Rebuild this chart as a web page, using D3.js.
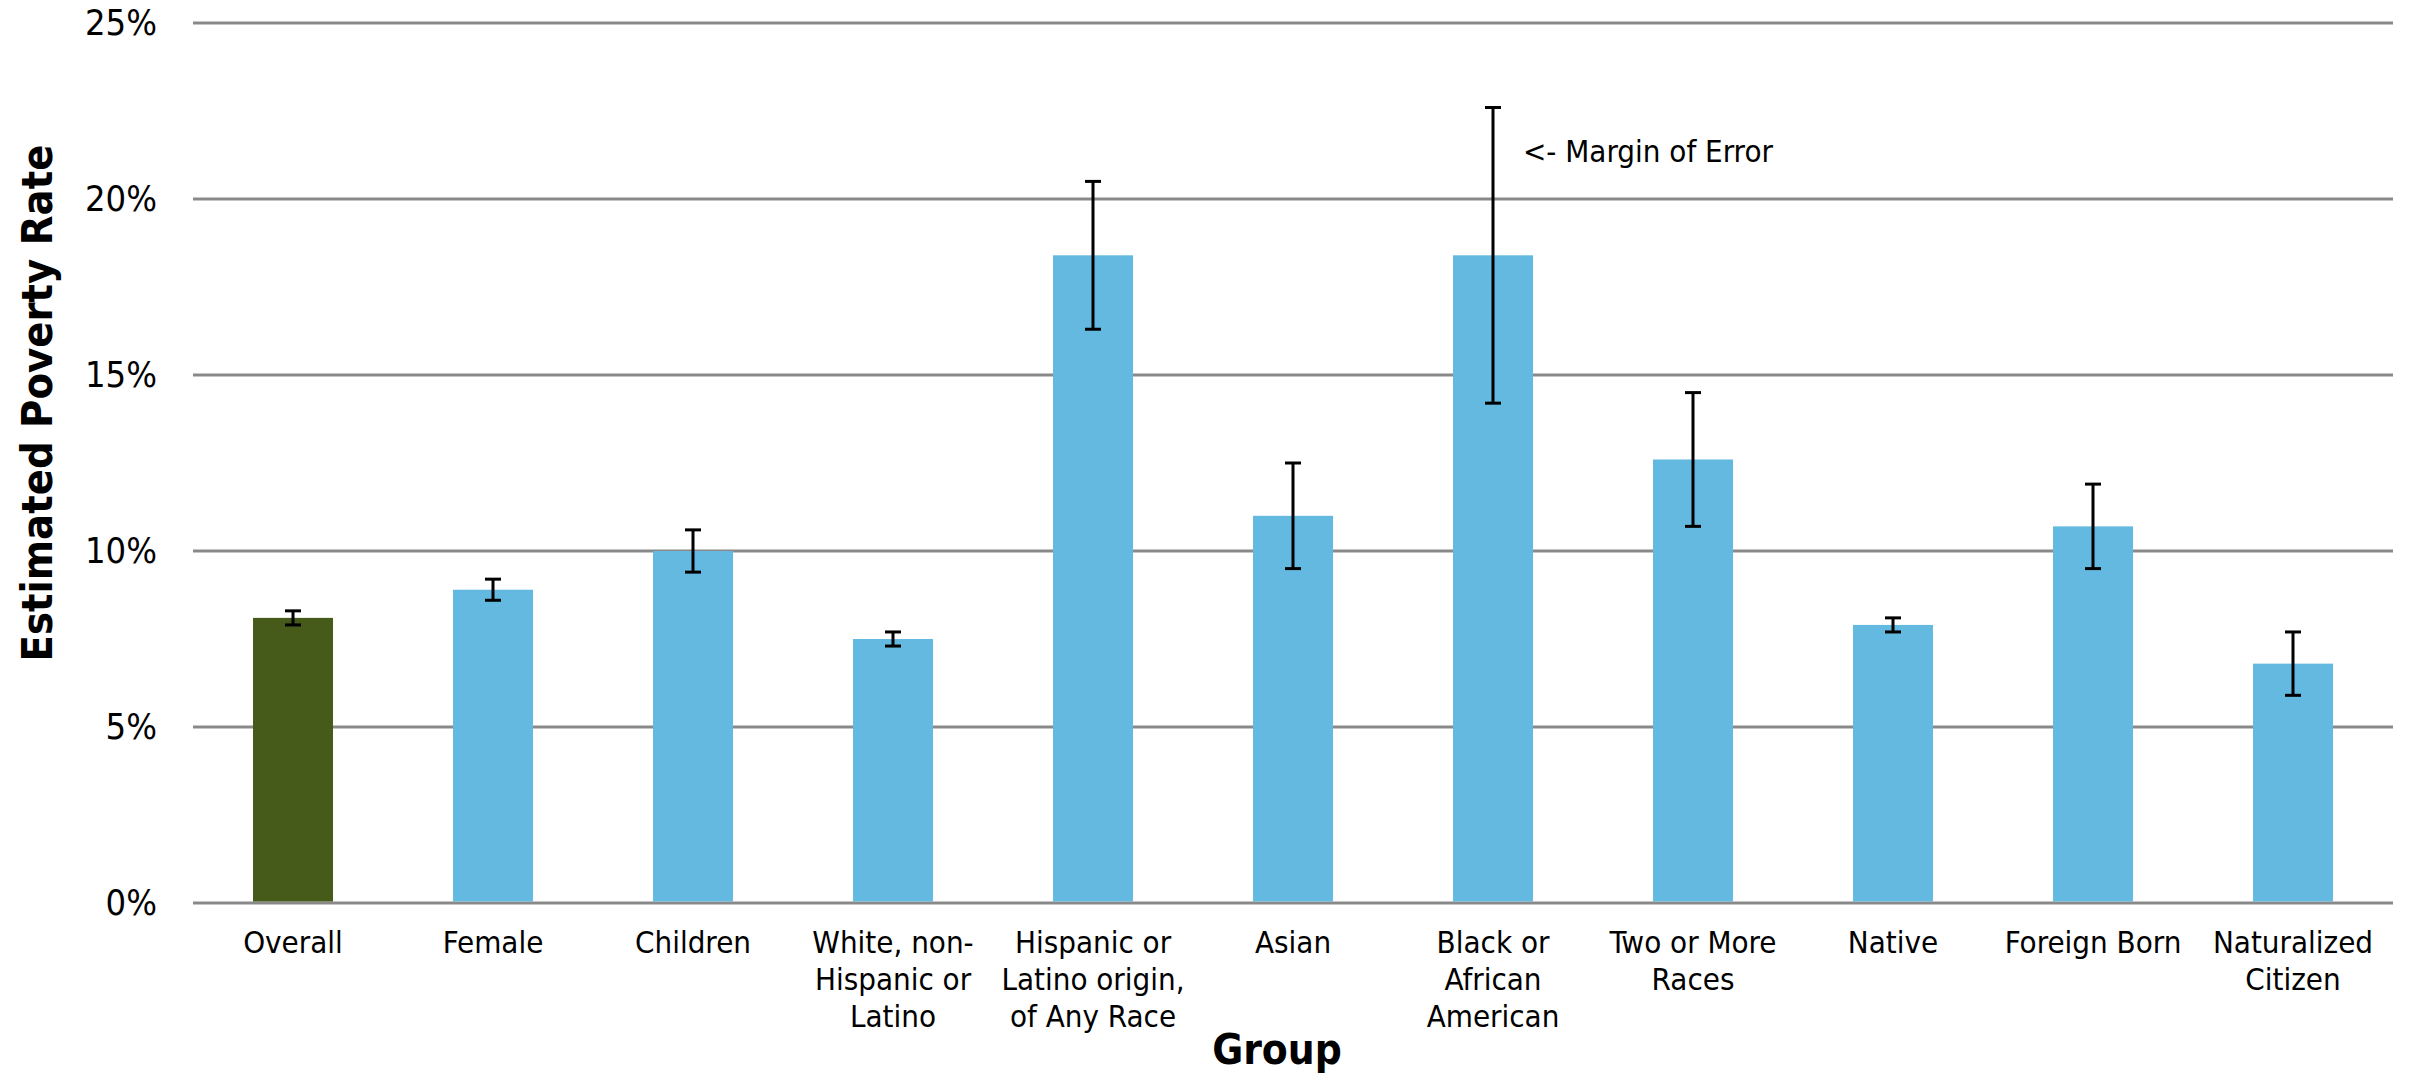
<!DOCTYPE html>
<html>
<head>
<meta charset="utf-8">
<script src="https://cdn.jsdelivr.net/npm/d3@7"></script>
<style>
  html, body { margin: 0; padding: 0; background: #ffffff; }
  svg { display: block; }
  .cond { font-family: "DejaVu Sans Condensed", "DejaVu Sans", sans-serif; font-stretch: condensed; }
</style>
</head>
<body>
<svg id="chart" width="2410" height="1078"></svg>
<script>
// ---- data ----
const categories = [
  "Overall", "Female", "Children", "White, non-\nHispanic or\nLatino",
  "Hispanic or\nLatino origin,\nof Any Race", "Asian", "Black or\nAfrican\nAmerican",
  "Two or More\nRaces", "Native", "Foreign Born", "Naturalized\nCitizen"
];
const povertyRate = [8.1, 8.9, 10.0, 7.5, 18.4, 11.0, 18.4, 12.6, 7.9, 10.7, 6.8];
const marginOfError = [0.2, 0.3, 0.6, 0.2, 2.1, 1.5, 4.2, 1.9, 0.2, 1.2, 0.9];
const highlight = ["Overall"];
const yTicks = [0, 5, 10, 15, 20, 25];
const annotation = { category: "Black or\nAfrican\nAmerican", value: 21.3, text: "<- Margin of Error" };
const xTitle = "Group";
const yTitle = "Estimated Poverty Rate";

// ---- layout ----
const W = 2410, H = 1078;
const plot = { left: 193, right: 2393, top: 23, bottom: 903 };

const svg = d3.select("#chart");

const x = d3.scaleBand()
  .domain(categories)
  .range([plot.left, plot.right])
  .paddingInner(0.6)
  .paddingOuter(0.3);

const y = d3.scaleLinear()
  .domain([0, 25])
  .range([plot.bottom, plot.top]);

// gridlines
svg.append("g")
  .selectAll("line")
  .data(yTicks)
  .join("line")
  .attr("x1", plot.left)
  .attr("x2", plot.right)
  .attr("y1", d => y(d))
  .attr("y2", d => y(d))
  .attr("stroke", "#898989")
  .attr("stroke-width", 3);

// y axis labels
const yAxis = d3.axisLeft(y)
  .tickValues(yTicks)
  .tickFormat(d => d + "%")
  .tickSize(0)
  .tickPadding(36);
const yg = svg.append("g")
  .attr("transform", `translate(${plot.left},0)`)
  .call(yAxis);
yg.select(".domain").remove();
yg.selectAll("text")
  .attr("class", "cond")
  .attr("font-size", 36)
  .attr("fill", "#000");

// bars
svg.append("g")
  .selectAll("rect")
  .data(categories)
  .join("rect")
  .attr("x", d => x(d))
  .attr("width", x.bandwidth())
  .attr("y", (d, i) => y(povertyRate[i]))
  .attr("height", (d, i) => y(0) - y(povertyRate[i]) - 1.5)
  .attr("fill", d => highlight.includes(d) ? "#465A1A" : "#63B9DF");

// error bars
const eg = svg.append("g").attr("stroke", "#000").attr("stroke-width", 3);
categories.forEach((c, i) => {
  const cx = x(c) + x.bandwidth() / 2;
  const hi = y(povertyRate[i] + marginOfError[i]);
  const lo = y(povertyRate[i] - marginOfError[i]);
  eg.append("line").attr("x1", cx).attr("x2", cx).attr("y1", hi).attr("y2", lo);
  eg.append("line").attr("x1", cx - 8).attr("x2", cx + 8).attr("y1", hi).attr("y2", hi);
  eg.append("line").attr("x1", cx - 8).attr("x2", cx + 8).attr("y1", lo).attr("y2", lo);
});

// x axis labels
const xAxis = d3.axisBottom(x).tickSize(0).tickFormat("");
const xg = svg.append("g")
  .attr("transform", `translate(0,${plot.bottom})`)
  .call(xAxis);
xg.select(".domain").remove();
xg.selectAll(".tick").each(function(d) {
  const lines = d.split("\n");
  const t = d3.select(this).append("text")
    .attr("class", "cond")
    .attr("font-size", 31)
    .attr("fill", "#000")
    .attr("text-anchor", "middle");
  lines.forEach((ln, k) => {
    t.append("tspan")
      .attr("x", 0)
      .attr("y", 50 + k * 37)
      .text(ln);
  });
});

// annotation
svg.append("text")
  .attr("class", "cond")
  .attr("font-size", 31)
  .attr("fill", "#000")
  .attr("x", x(annotation.category) + x.bandwidth() / 2 + 30)
  .attr("y", y(annotation.value))
  .attr("dominant-baseline", "middle")
  .text(annotation.text);

// axis titles
svg.append("text")
  .attr("class", "cond")
  .attr("font-size", 42)
  .attr("font-weight", "bold")
  .attr("fill", "#000")
  .attr("text-anchor", "middle")
  .attr("x", 1277)
  .attr("y", 1064)
  .text(xTitle);

svg.append("text")
  .attr("class", "cond")
  .attr("font-size", 43)
  .attr("font-weight", "bold")
  .attr("fill", "#000")
  .attr("text-anchor", "middle")
  .attr("transform", `translate(52,403) rotate(-90)`)
  .text(yTitle);
</script>
</body>
</html>
